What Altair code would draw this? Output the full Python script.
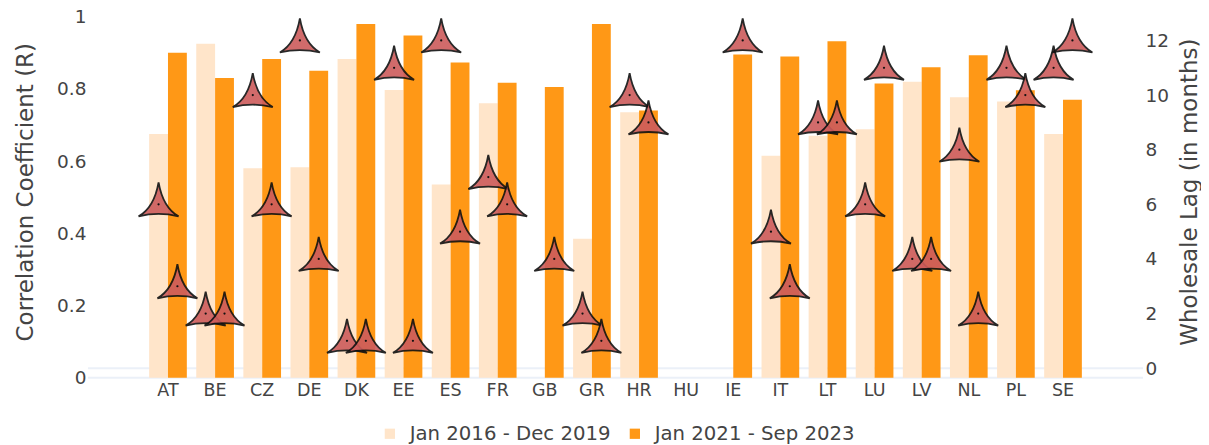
import altair as alt
import pandas as pd

countries = ["AT","BE","CZ","DE","DK","EE","ES","FR","GB","GR","HR","HU","IE","IT","LT","LU","LV","NL","PL","SE"]
periods = ["Jan 2016 - Dec 2019", "Jan 2021 - Sep 2023"]
corr_early = [.675,.925,.58,.583,.883,.797,.535,.76,None,.385,.735,None,None,.615,.67,.688,.82,.777,.765,.675]
corr_late = [.90,.83,.883,.85,.98,.948,.873,.817,.805,.98,.74,None,.895,.89,.932,.815,.86,.893,.796,.77]
lag_early = [6,2,10,12,1,11,12,7,None,2,10,None,None,5,9,6,4,8,11,11]
lag_late = [3,2,6,4,1,1,5,6,4,1,9,None,12,3,9,11,4,2,10,12]

FONT = "DejaVu Sans"
TXT = "#444444"
rows = []
for i, c in enumerate(countries):
    rows.append(dict(c=c, p=periods[0], r=corr_early[i], lag=lag_early[i]))
    rows.append(dict(c=c, p=periods[1], r=corr_late[i], lag=lag_late[i]))
df = pd.DataFrame(rows)
bars_df = df.dropna(subset=["r"])
lag_df = df.dropna(subset=["lag"])

left_dom = [0, 1]
right_dom = [-0.348, 12.87]

x = alt.X("c:N", sort=countries,
          scale=alt.Scale(type="band", domain=countries, paddingInner=0.2, paddingOuter=0.3, range=[47, 1008]),
          axis=alt.Axis(title=None, labelAngle=0, ticks=False, domain=False, grid=False,
                        labelFont=FONT, labelFontSize=17.5, labelColor=TXT, labelPadding=4))
xo = alt.XOffset("p:N", scale=alt.Scale(domain=periods))

ZERO = "#EBF0F8"
rule_l = alt.Chart(pd.DataFrame({"v": [0]})).mark_rule(color=ZERO, strokeWidth=2).encode(
    y=alt.Y("v:Q", scale=alt.Scale(domain=left_dom), axis=None))
rule_r = alt.Chart(pd.DataFrame({"v": [0]})).mark_rule(color=ZERO, strokeWidth=2).encode(
    y=alt.Y("v:Q", scale=alt.Scale(domain=right_dom), axis=None))

bars = alt.Chart(bars_df).mark_bar(strokeWidth=0).encode(
    x=x, xOffset=xo,
    y=alt.Y("r:Q", scale=alt.Scale(domain=left_dom, nice=False),
            axis=alt.Axis(orient="left", title="Correlation Coefficient (R)", values=[0,.2,.4,.6,.8,1],
                          labelExpr="datum.value", ticks=False, domain=False, grid=False,
                          labelFont=FONT, labelFontSize=18.5, labelColor=TXT, labelPadding=2,
                          titleFont=FONT, titleFontSize=23, titleColor=TXT, titleFontWeight="normal",
                          titleAngle=270, titleBaseline="middle", titleAlign="center", titleX=-63, titleY=175)),
    color=alt.Color("p:N", scale=alt.Scale(domain=periods, range=["#FFE5CA", "#FF9816"]),
                    legend=alt.Legend(title=None, orient="none", legendX=292, legendY=407,
                                      direction="horizontal", columns=2, symbolType="square", symbolSize=105,
                                      labelFont=FONT, labelFontSize=19.7, labelColor=TXT, columnPadding=14,
                                      labelOffset=10, symbolOpacity=1, labelLimit=300)),
)

TRI = "M0,-1.1 Q0.22,0.16 1,0.6 Q0,0.36 -1,0.6 Q-0.22,0.16 0,-1.1 Z"
pts = alt.Chart(lag_df).mark_point(shape=TRI, size=1600, filled=True, fill="#CD5C5C", stroke="#111111",
                                    strokeWidth=1.8, opacity=0.9).encode(
    x=x, xOffset=xo,
    y=alt.Y("lag:Q", scale=alt.Scale(domain=right_dom, nice=False),
            axis=alt.Axis(orient="right", title="Wholesale Lag (in months)", values=[0,2,4,6,8,10,12],
                          ticks=False, domain=False, grid=False,
                          labelFont=FONT, labelFontSize=18.5, labelColor=TXT, labelPadding=2,
                          titleFont=FONT, titleFontSize=23, titleColor=TXT, titleFontWeight="normal",
                          titleAngle=270, titleBaseline="middle", titleAlign="center", titleX=47, titleY=175)),
)
dots = alt.Chart(lag_df).mark_point(shape="circle", size=5, filled=True, fill="#111111", opacity=1).encode(
    x=x, xOffset=xo,
    y=alt.Y("lag:Q", scale=alt.Scale(domain=right_dom, nice=False), axis=None),
)

chart = alt.layer(rule_l, rule_r, bars, pts, dots).resolve_scale(y="independent").properties(
    width=1055, height=361,
    background="white",
    autosize=alt.AutoSizeParams(type="none"),
    padding={"left": 80, "top": 8.7, "right": 58, "bottom": 66},
).configure_view(stroke=None)

chart.save("out.html", embed_options={"renderer": "svg", "actions": False})
